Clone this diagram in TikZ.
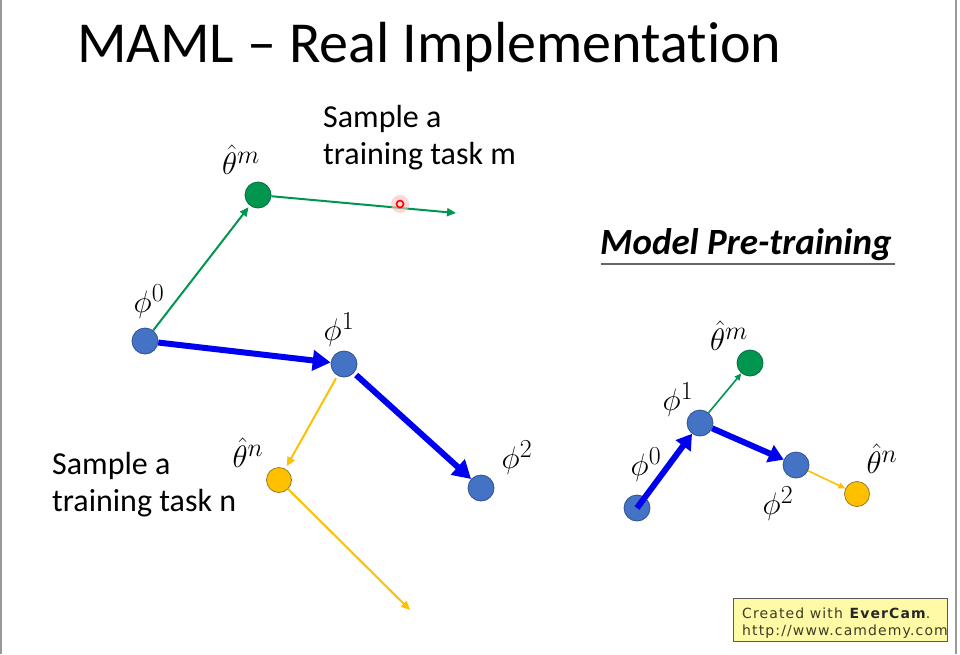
\documentclass[tikz,border=0pt]{standalone}
\usepackage{fontspec}
\setmainfont{Carlito}[Ligatures=NoCommon]
\newfontfamily\evfont{DejaVu Sans}[LetterSpace=8]
\usetikzlibrary{arrows.meta}
\definecolor{dotblue}{RGB}{68,114,196}
\definecolor{dotblueb}{RGB}{47,82,143}
\definecolor{arrblue}{RGB}{0,0,240}
\definecolor{mgreen}{RGB}{0,150,80}
\definecolor{mgreenb}{RGB}{0,110,60}
\definecolor{morange}{RGB}{255,192,0}
\definecolor{morangeb}{RGB}{150,120,40}
\definecolor{evyellow}{RGB}{255,250,165}
\definecolor{evtext}{RGB}{60,60,40}
\tikzset{
  bdot/.style={circle,fill=dotblue,draw=dotblueb,line width=0.8pt,minimum size=26pt,inner sep=0pt},
  gdot/.style={circle,fill=mgreen,draw=mgreenb,line width=0.8pt,minimum size=26pt,inner sep=0pt},
  odot/.style={circle,fill=morange,draw=morangeb,line width=0.8pt,minimum size=25pt,inner sep=0pt},
  bigarrow/.style={draw=arrblue,line width=6pt,-{Triangle[length=18pt,width=20pt]}},
  smallbigarrow/.style={draw=arrblue,line width=6pt,-{Triangle[length=15pt,width=18pt]}},
  garrow/.style={draw=mgreen,line width=2pt,-{Triangle[length=9pt,width=8pt]}},
  oarrow/.style={draw=morange,line width=2pt,-{Triangle[length=9pt,width=8pt]}},
  lbl/.style={inner sep=0pt,scale=1.25,font=\fontsize{24.88}{28}\selectfont},
  txt/.style={inner sep=0pt,align=left,font=\fontsize{32}{37}\selectfont},
}
\begin{document}
\begin{tikzpicture}[x=1pt,y=-1pt]
\useasboundingbox (0,0) rectangle (960,654);
\fill[white] (0,0) rectangle (960,654);
\draw[gray!80,line width=1.5pt] (0.8,0) -- (0.8,654);
\draw[gray!80,line width=1.5pt] (956,0) -- (956,654);

% title
\node[inner sep=0pt,anchor=base west,font=\fontsize{58}{60}\selectfont] (title) at (77,62) {MAML -- Real Implementation};

% left diagram
\node[gdot] (tm) at (258,195) {};
\node[bdot] (p0) at (145,341) {};
\node[bdot] (p1) at (344,364) {};
\node[bdot] (p2) at (481,488) {};
\node[odot] (tn) at (279,480) {};
\coordinate (tmEnd) at (456,213);
\coordinate (tnEnd) at (410,610);

\draw[garrow,shorten >=2pt] (p0) -- (tm);
\draw[garrow] (tm) -- (tmEnd);
\draw[bigarrow] (p0) -- (p1);
\draw[bigarrow,shorten <=3pt] (p1) -- (p2);
\draw[oarrow,shorten <=3pt,shorten >=3pt] (p1) -- (tn);
\draw[oarrow] (tn) -- (tnEnd);

% laser pointer
\fill[red!25,opacity=0.6] (400,204) circle (9);
\draw[red,line width=1.6pt] (400,204) circle (3.5);
\node[inner sep=0pt] (laser) at (400,204) {};

\node[lbl] (ltm) at (241,160) {$\hat\theta^m$};
\node[lbl] (lp0) at (149,302) {$\phi^0$};
\node[lbl] (lp1) at (339,330) {$\phi^1$};
\node[lbl] (ltn) at (248,453) {$\hat\theta^n$};
\node[lbl] (lp2) at (517,458) {$\phi^2$};

\node[txt,anchor=base west] (tm-text) at (323,164) {Sample a\\training task m};
\node[txt,anchor=base west] (tn-text) at (52,511) {Sample a\\training task n};

% right diagram
\node[inner sep=0pt,anchor=base west,font=\fontsize{37}{40}\selectfont\bfseries\itshape] (mpt) at (600,254) {Model Pre-training};
\draw[gray!80!black,line width=1.5pt] (601,264) -- (895,264);

\node[gdot] (rtm) at (750,363) {};
\node[bdot] (rp1) at (700,423) {};
\node[bdot] (rp2) at (796,465) {};
\node[odot] (rtn) at (857,494) {};
\node[bdot] (rp0) at (637,508) {};

\draw[smallbigarrow] (rp0.center) -- (rp1);
\draw[smallbigarrow] (rp1) -- (rp2);
\draw[garrow,line width=1.6pt,-{Triangle[length=7pt,width=6pt]}] (rp1) -- (rtm);
\draw[oarrow,line width=1.6pt,-{Triangle[length=7pt,width=6pt]}] (rp2) -- (rtn);

\node[lbl] (rltm) at (729,336) {$\hat\theta^m$};
\node[lbl] (rlp1) at (678,400) {$\phi^1$};
\node[lbl] (rlp0) at (646,465) {$\phi^0$};
\node[lbl] (rlp2) at (778,504) {$\phi^2$};
\node[lbl] (rltn) at (882,459) {$\hat\theta^n$};

% evercam box
\draw[fill=evyellow,draw=gray!70!black,line width=1pt] (733,598) rectangle (947,641);
\node[inner sep=0pt,anchor=base west,text=evtext,font=\evfont\fontsize{14}{16}\selectfont] (ev1) at (742,618) {Created with \textbf{\color{black!85}EverCam}.};
\node[inner sep=0pt,anchor=base west,text=evtext,font=\evfont\fontsize{14}{16}\selectfont] (ev2) at (742,635) {http://www.camdemy.com};
\end{tikzpicture}
\end{document}
